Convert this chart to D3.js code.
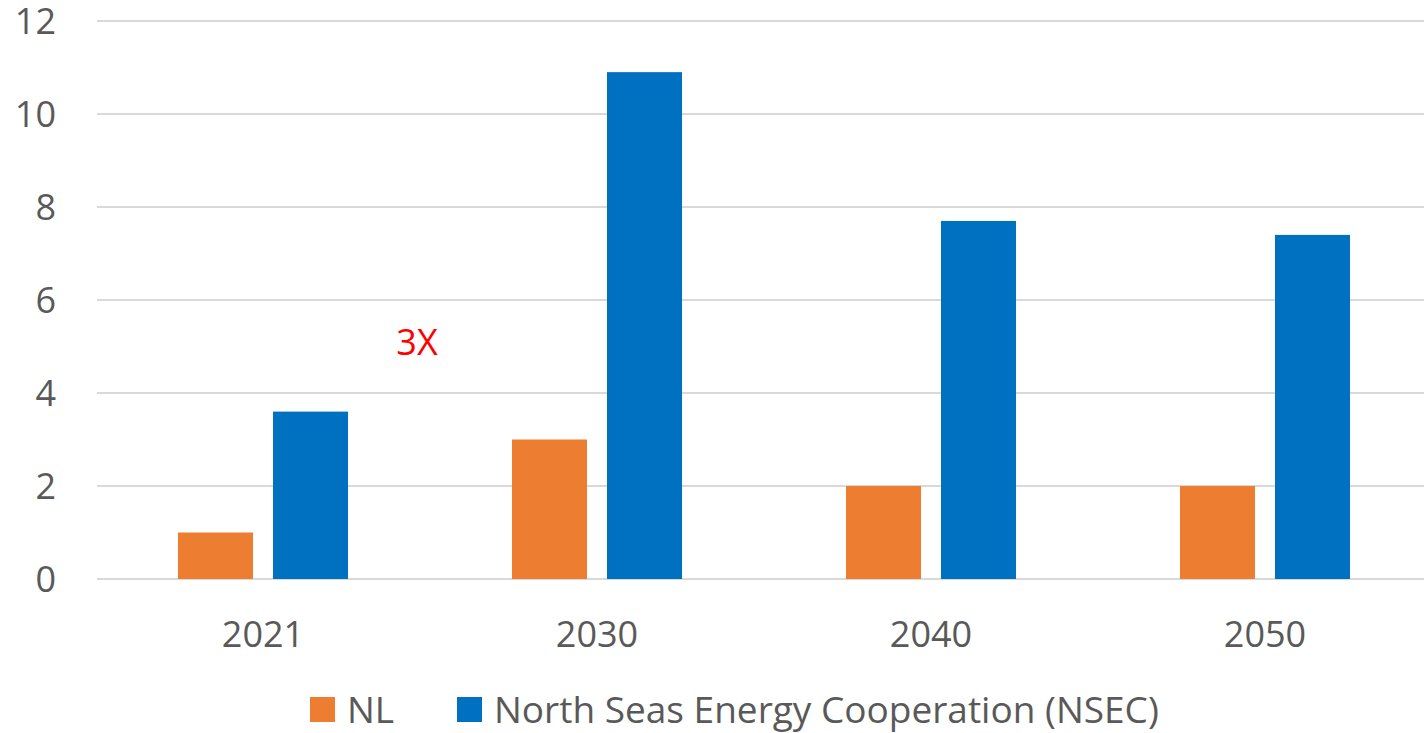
<!DOCTYPE html>
<html>
<head>
<meta charset="utf-8">
<script src="https://cdn.jsdelivr.net/npm/d3@7"></script>
<style>
  body { margin: 0; background: #fff; }
  svg text { font-family: "Open Sans", "Noto Sans", sans-serif; fill: #595959; }
</style>
</head>
<body>
<svg id="chart" width="1424" height="733"></svg>
<script>
// chart data
var years = ["2021", "2030", "2040", "2050"];
var seriesNames = ["NL", "North Seas Energy Cooperation (NSEC)"];
var nlValues = [1, 3, 2, 2];
var nsecValues = [3.6, 10.9, 7.7, 7.4];
var yTicks = [0, 2, 4, 6, 8, 10, 12];
var colors = ["#ED7D31", "#0070C0"];

var svg = d3.select("#chart");
var fontSize = "36px";

// scales
var x0 = d3.scaleBand().domain(years).range([96, 1432]).padding(0);
var x1 = d3.scaleBand().domain(seriesNames).range([0, x0.bandwidth()])
  .paddingInner(0.2105).paddingOuter(0.863);
var y = d3.scaleLinear().domain([0, 12]).range([579, 21]);

// gridlines
svg.append("g").selectAll("line").data(yTicks).enter().append("line")
  .attr("x1", 97).attr("x2", 1424)
  .attr("y1", function(d){ return y(d); })
  .attr("y2", function(d){ return y(d); })
  .attr("stroke", "#d9d9d9").attr("stroke-width", 2);

// y tick labels
svg.append("g").selectAll("text").data(yTicks).enter().append("text")
  .attr("x", 56).attr("y", function(d){ return y(d); })
  .attr("dy", "0.36em")
  .attr("text-anchor", "end")
  .style("font-size", fontSize)
  .text(function(d){ return d; });

// bars
var rows = years.map(function(yr, i){ return {year: yr, vals: [nlValues[i], nsecValues[i]]}; });
var groups = svg.append("g").selectAll("g").data(rows).enter().append("g")
  .attr("transform", function(d){ return "translate(" + x0(d.year) + ",0)"; });
groups.selectAll("rect").data(function(d){
    return d.vals.map(function(v, j){ return {name: seriesNames[j], value: v, idx: j}; });
  }).enter().append("rect")
  .attr("x", function(d){ return x1(d.name); })
  .attr("width", x1.bandwidth())
  .attr("y", function(d){ return y(d.value); })
  .attr("height", function(d){ return y(0) - y(d.value); })
  .attr("fill", function(d){ return colors[d.idx]; });

// x labels
svg.append("g").selectAll("text").data(years).enter().append("text")
  .attr("x", function(d){ return x0(d) + x0.bandwidth() / 2; })
  .attr("y", 634).attr("dy", "0.36em")
  .attr("text-anchor", "middle")
  .style("font-size", fontSize)
  .text(function(d){ return d; });

// annotation
svg.append("text")
  .attr("x", 417).attr("y", 342).attr("dy", "0.36em")
  .attr("text-anchor", "middle")
  .style("font-size", fontSize)
  .style("fill", "#FF0000")
  .text("3X");

// legend
var legendX = [310, 457];
var legend = svg.append("g").selectAll("g").data(seriesNames).enter().append("g")
  .attr("transform", function(d, i){ return "translate(" + legendX[i] + ",697)"; });
legend.append("rect").attr("width", 25).attr("height", 25)
  .attr("fill", function(d, i){ return colors[i]; });
legend.append("text")
  .attr("x", 37).attr("y", 12.5).attr("dy", "0.36em")
  .style("font-size", "37px")
  .text(function(d){ return d; });
</script>
</body>
</html>
